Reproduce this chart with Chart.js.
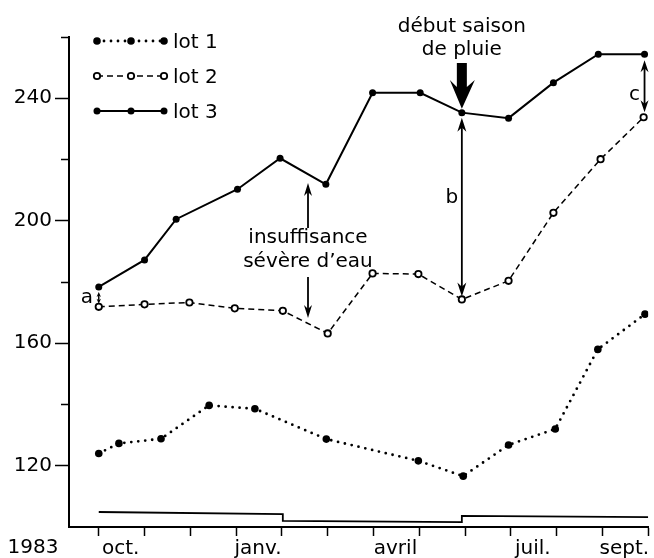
<!DOCTYPE html>
<html>
<head>
<meta charset="utf-8">
<script src="https://cdn.jsdelivr.net/npm/chart.js@4/dist/chart.umd.min.js"></script>
<style>
  html, body { margin: 0; padding: 0; background: #fff; }
</style>
</head>
<body>
<canvas id="chart" width="654" height="558"></canvas>
<script>
// months counted from 1 Oct 1983
const monthTicks = [0, 1, 2, 3, 4, 5, 6, 7, 8, 9, 10, 11, 12];
const monthLabels = ["oct.", "", "", "janv.", "", "", "avril", "", "", "juil.", "", "sept.", ""];

const lot1X = [0, 0.44, 1.36, 2.41, 3.41, 4.97, 6.98, 7.96, 8.95, 9.97, 10.9, 11.93];
const lot1Y = [124.0, 127.3, 128.8, 139.7, 138.6, 128.7, 121.6, 116.6, 126.8, 132.0, 158.0, 169.5];

const lot2X = [0, 1, 1.98, 2.97, 4.02, 5.0, 5.98, 6.98, 7.93, 8.95, 9.93, 10.96, 11.9];
const lot2Y = [171.9, 172.7, 173.3, 171.4, 170.6, 163.2, 182.8, 182.6, 174.3, 180.4, 202.6, 220.1, 233.8];

const lot3X = [0, 1, 1.69, 3.03, 3.96, 4.96, 5.98, 7.02, 7.93, 8.95, 9.93, 10.91, 11.92];
const lot3Y = [178.4, 187.2, 200.5, 210.3, 220.4, 211.9, 241.8, 241.8, 235.3, 233.5, 245.1, 254.4, 254.4];

const baseX = [0, 4.02, 4.02, 7.93, 7.93, 12];
const baseY = [104.9, 104.2, 102.0, 101.6, 103.6, 103.2];

const legendNames = ["lot 1", "lot 2", "lot 3"];

const pts = (xs, ys) => xs.map((x, i) => ({ x: x, y: ys[i] }));

Chart.defaults.font.family = "'DejaVu Sans', sans-serif";
Chart.defaults.font.size = 20;
Chart.defaults.color = "#000";

function head(ctx, x, y, dir, L, W, N) {
  // dir 1 = pointing down, -1 = pointing up
  ctx.beginPath();
  ctx.moveTo(x, y);
  ctx.lineTo(x - W, y - dir * L);
  ctx.lineTo(x, y - dir * N);
  ctx.lineTo(x + W, y - dir * L);
  ctx.closePath();
  ctx.fill();
}

function doubleArrow(ctx, x, y1, y2, L, W) {
  ctx.beginPath();
  ctx.moveTo(x, y1 + L * 0.6);
  ctx.lineTo(x, y2 - L * 0.6);
  ctx.stroke();
  head(ctx, x, y1, -1, L, W, L * 0.7);
  head(ctx, x, y2, 1, L, W, L * 0.7);
}

const legendPlugin = {
  id: "lotLegend",
  afterDraw(chart) {
    const ctx = chart.ctx;
    const rows = [41, 76, 111];
    const xs = [97, 131, 164];
    ctx.save();
    rows.forEach((y, i) => {
      const ds = chart.data.datasets[i];
      ctx.strokeStyle = "#000";
      ctx.lineWidth = ds.borderWidth;
      ctx.lineCap = ds.borderCapStyle || "butt";
      ctx.setLineDash(ds.borderDash || []);
      ctx.beginPath();
      ctx.moveTo(xs[0], y);
      ctx.lineTo(xs[2], y);
      ctx.stroke();
      ctx.setLineDash([]);
      xs.forEach(x => {
        ctx.beginPath();
        ctx.arc(x, y, ds.pointRadius, 0, Math.PI * 2);
        ctx.fillStyle = ds.pointBackgroundColor;
        ctx.fill();
        if (ds.pointBorderWidth) {
          ctx.lineWidth = ds.pointBorderWidth;
          ctx.strokeStyle = ds.pointBorderColor;
          ctx.stroke();
        }
      });
      ctx.fillStyle = "#000";
      ctx.font = "20px 'DejaVu Sans'";
      ctx.textAlign = "left";
      ctx.textBaseline = "alphabetic";
      ctx.fillText(legendNames[i], 173, y + 7);
    });
    ctx.restore();
  }
};

const notesPlugin = {
  id: "notes",
  afterDraw(chart) {
    const ctx = chart.ctx;
    const xs = chart.scales.x, ys = chart.scales.y;
    ctx.save();
    ctx.fillStyle = "#000";
    ctx.strokeStyle = "#000";
    ctx.lineWidth = 1.8;
    ctx.font = "20px 'DejaVu Sans'";
    ctx.textAlign = "center";
    ctx.textBaseline = "alphabetic";

    // début saison de pluie
    const bx = xs.getPixelForValue(lot3X[8]);
    const b3 = ys.getPixelForValue(lot3Y[8]);
    const b2 = ys.getPixelForValue(lot2Y[8]);
    ctx.fillText("début saison", bx, 32);
    ctx.fillText("de pluie", bx, 55);
    ctx.beginPath();
    ctx.moveTo(bx - 5, 63);
    ctx.lineTo(bx - 5, 87);
    ctx.lineTo(bx - 12, 80);
    ctx.lineTo(bx, b3 - 4);
    ctx.lineTo(bx + 13, 80);
    ctx.lineTo(bx + 5, 87);
    ctx.lineTo(bx + 5, 63);
    ctx.closePath();
    ctx.fill();

    // b
    doubleArrow(ctx, bx, b3 + 5, b2 - 3, 14, 4.5);
    ctx.fillText("b", bx - 10, 203);

    // c
    const cx = xs.getPixelForValue(lot3X[12]);
    doubleArrow(ctx, cx, ys.getPixelForValue(lot3Y[12]) + 6, ys.getPixelForValue(lot2Y[12]) - 5, 12, 4);
    ctx.fillText("c", cx - 10, 100);

    // a
    const ax = xs.getPixelForValue(lot3X[0]);
    ctx.lineWidth = 1.4;
    doubleArrow(ctx, ax, ys.getPixelForValue(lot3Y[0]) + 5, ys.getPixelForValue(lot2Y[0]) - 3, 5, 2.2);
    ctx.fillText("a", ax - 12, 303);

    // insuffisance sévère d'eau
    ctx.lineWidth = 1.8;
    const ix = 308;
    ctx.fillText("insuffisance", ix, 243);
    ctx.fillText("sévère d’eau", ix, 267);
    ctx.beginPath();
    ctx.moveTo(ix, 228); ctx.lineTo(ix, 192); ctx.stroke();
    head(ctx, ix, 183, -1, 13, 4, 9);
    ctx.beginPath();
    ctx.moveTo(ix, 277); ctx.lineTo(ix, 309); ctx.stroke();
    head(ctx, ix, 318, 1, 13, 4, 9);

    // year
    ctx.fillText("1983", 33, 553);
    ctx.restore();
  }
};

new Chart(document.getElementById("chart"), {
  type: "line",
  data: {
    datasets: [
      {
        label: "lot 1",
        data: pts(lot1X, lot1Y),
        borderColor: "#000",
        borderWidth: 2.8,
        borderDash: [0, 7],
        borderCapStyle: "round",
        pointRadius: 3.8,
        pointBackgroundColor: "#000",
        pointBorderWidth: 0,
        tension: 0
      },
      {
        label: "lot 2",
        data: pts(lot2X, lot2Y),
        borderColor: "#000",
        borderWidth: 1.5,
        borderDash: [6, 4],
        pointRadius: 3.2,
        pointBackgroundColor: "#fff",
        pointBorderColor: "#000",
        pointBorderWidth: 1.8,
        tension: 0
      },
      {
        label: "lot 3",
        data: pts(lot3X, lot3Y),
        borderColor: "#000",
        borderWidth: 2,
        pointRadius: 3.5,
        pointBackgroundColor: "#000",
        pointBorderWidth: 0,
        tension: 0
      },
      {
        label: "base",
        data: pts(baseX, baseY),
        borderColor: "#000",
        borderWidth: 1.8,
        pointRadius: 0,
        tension: 0
      }
    ]
  },
  options: {
    responsive: false,
    animation: false,
    devicePixelRatio: 1,
    layout: { padding: { top: 37, right: 3, left: 0, bottom: 0 } },
    plugins: {
      legend: { display: false },
      tooltip: { enabled: false }
    },
    scales: {
      x: {
        type: "linear",
        min: -0.65,
        max: 12,
        afterBuildTicks: s => { s.ticks = monthTicks.map(v => ({ value: v })); },
        afterFit: s => { s.height = 31; },
        ticks: {
          autoSkip: false,
          maxRotation: 0,
          labelOffset: 22,
          padding: 1,
          callback: (v, i) => monthLabels[i] || ""
        },
        grid: { drawOnChartArea: false, tickLength: 9, tickColor: "#000", tickWidth: 1.5 },
        border: { display: true, color: "#000", width: 2 }
      },
      y: {
        min: 100,
        max: 260,
        afterFit: s => { s.width = 69; },
        ticks: {
          stepSize: 20,
          padding: 3,
          callback: v => (v % 40 === 0 && v > 100 && v < 260) ? String(v) : ""
        },
        grid: {
          drawOnChartArea: false,
          tickLength: 14,
          tickWidth: 1.5,
          tickColor: c => (c.tick && c.tick.value === 100) ? "rgba(0,0,0,0)" : "#000",
          tickBorderDash: c => (c.tick && c.tick.value % 40 === 0) ? [] : [0, 6, 20, 0]
        },
        border: { display: true, color: "#000", width: 2 }
      }
    }
  },
  plugins: [legendPlugin, notesPlugin]
});
</script>
</body>
</html>
